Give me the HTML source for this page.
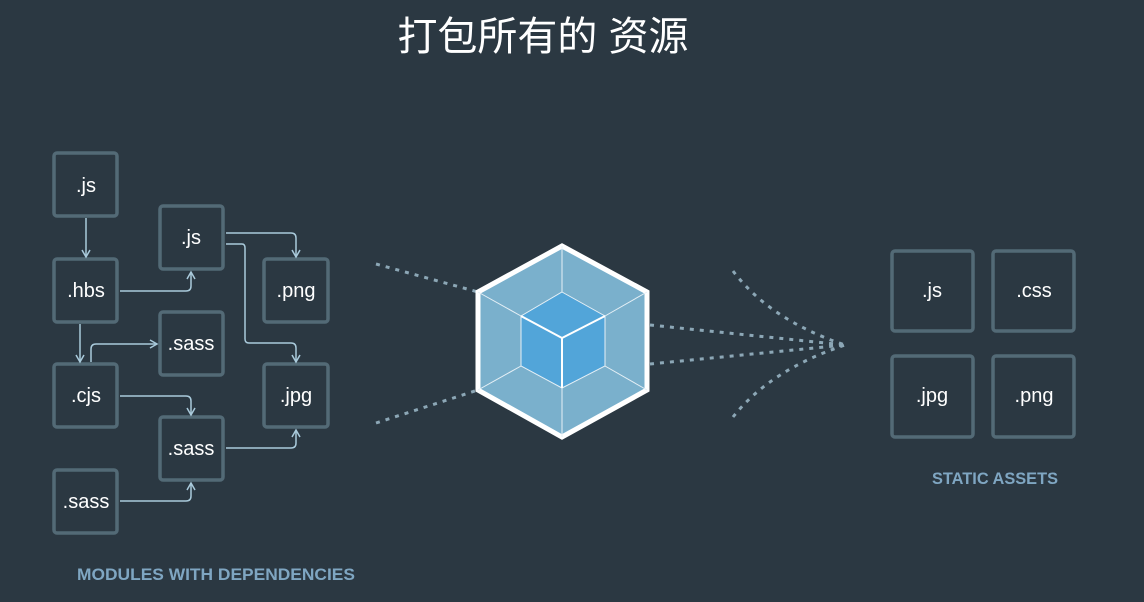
<!DOCTYPE html>
<html><head><meta charset="utf-8"><style>
html,body{margin:0;padding:0;background:#2b3842;}
svg{display:block}
text{font-family:"Liberation Sans","Noto Sans CJK SC",sans-serif;}
</style></head><body>
<svg width="1144" height="602" viewBox="0 0 1144 602" xmlns="http://www.w3.org/2000/svg">
<rect width="1144" height="602" fill="#2b3842"/>
<text x="543" y="50" font-size="40" fill="#fff" text-anchor="middle">打包所有的 资源</text>
<defs><marker id="a" markerWidth="10" markerHeight="10" refX="8" refY="5" orient="auto" markerUnits="userSpaceOnUse"><path d="M1,1 L8,5 L1,9" fill="none" stroke="#a9cadb" stroke-width="1.5"/></marker></defs>
<g fill="#2b3842" stroke="#536a76" stroke-width="3.5">
<rect x="54" y="153" width="63" height="63" rx="3"/>
<rect x="54" y="259" width="63" height="63" rx="3"/>
<rect x="54" y="364" width="63" height="63" rx="3"/>
<rect x="54" y="470" width="63" height="63" rx="3"/>
<rect x="160" y="206" width="63" height="63" rx="3"/>
<rect x="160" y="312" width="63" height="63" rx="3"/>
<rect x="160" y="417" width="63" height="63" rx="3"/>
<rect x="264" y="259" width="64" height="63" rx="3"/>
<rect x="264" y="364" width="64" height="63" rx="3"/>
<rect x="892" y="251" width="81" height="80" rx="3"/>
<rect x="993" y="251" width="81" height="80" rx="3"/>
<rect x="892" y="356" width="81" height="81" rx="3"/>
<rect x="993" y="356" width="81" height="81" rx="3"/>
</g>
<g fill="none" stroke="#a9cadb" stroke-width="1.5" marker-end="url(#a)">
<path d="M86,218 V257"/>
<path d="M120,291 H186 Q191,291 191,286 V272"/>
<path d="M226,233 H291 Q296,233 296,238 V257"/>
<path d="M226,244 H242 Q245,244 245,248 V339 Q245,343 249,343 H291 Q296,343 296,348 V362"/>
<path d="M80,324 V362"/>
<path d="M91,362 V349 Q91,344 96,344 H157"/>
<path d="M120,396 H186 Q191,396 191,401 V415"/>
<path d="M226,448 H291 Q296,448 296,443 V430"/>
<path d="M120,501 H186 Q191,501 191,496 V483"/>
</g>
<g font-size="20" fill="#fff" text-anchor="middle">
<text x="86" y="192">.js</text>
<text x="86" y="297">.hbs</text>
<text x="86" y="402">.cjs</text>
<text x="86" y="508">.sass</text>
<text x="191" y="244">.js</text>
<text x="191" y="350">.sass</text>
<text x="191" y="455">.sass</text>
<text x="296" y="297">.png</text>
<text x="296" y="402">.jpg</text>
<text x="932" y="297">.js</text>
<text x="1034" y="297">.css</text>
<text x="932" y="402">.jpg</text>
<text x="1034" y="402">.png</text>
</g>
<g font-weight="bold" fill="#7fa6c2">
<text x="77" y="580" font-size="16.5" textLength="278" lengthAdjust="spacingAndGlyphs">MODULES WITH DEPENDENCIES</text>
<text x="932" y="484" font-size="16.5" textLength="126" lengthAdjust="spacingAndGlyphs">STATIC ASSETS</text>
</g>
<g fill="none" stroke="#8ca7b6" stroke-width="3" stroke-dasharray="4,6">
<path d="M376,264 L478,292"/>
<path d="M376,423 L478,390"/>
<path d="M650,325 L845,345"/>
<path d="M650,364 L845,345"/>
<path d="M733,271 Q770,320 845,345"/>
<path d="M733,417 Q770,370 845,345"/>
</g>
<polygon points="562,246 647,292 647,390 562,437 478,390 478,292" fill="#7ab0cc" stroke="#fff" stroke-width="5"/>
<g stroke="#e6f0f6" stroke-width="1" fill="none">
<path d="M562,246 V292 M478,292 L521,316 M647,292 L605,316 M478,390 L521,366 M647,390 L605,366 M562,437 V388"/>
</g>
<polygon points="562,292 605,316 605,366 562,388 521,366 521,316" fill="#52a5d9" stroke="#e6f0f6" stroke-width="1"/>
<path d="M521,316 L562,338 L605,316 M562,338 V388" stroke="#fff" stroke-width="2" fill="none"/>
</svg>
</body></html>
